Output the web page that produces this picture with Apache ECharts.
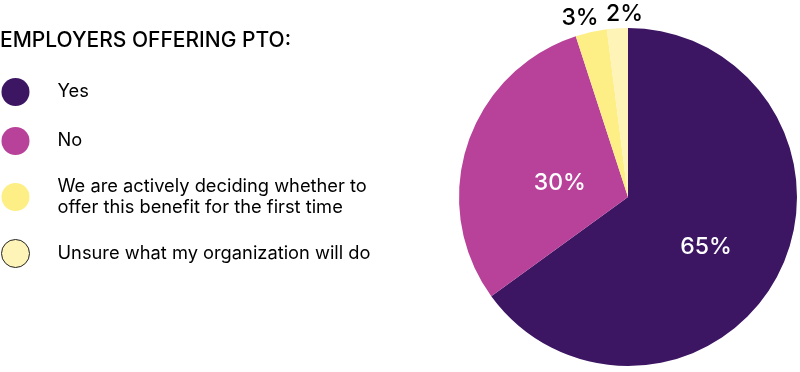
<!DOCTYPE html>
<html><head><meta charset="utf-8">
<script src="https://cdn.jsdelivr.net/npm/echarts@6/dist/echarts.min.js"></script>
<style>html,body{margin:0;padding:0;background:#fff}#c{width:800px;height:372px}</style>
</head><body><div id="c"></div>
<script>
const titleText = 'EMPLOYERS OFFERING PTO:';
const categories = ['Yes', 'No', 'We are actively deciding whether to\noffer this benefit for the first time', 'Unsure what my organization will do'];
const values = [65, 30, 3, 2];
const colors = ['#3c1563', '#b8419a', '#fdef86', '#fef4b8'];
const insideLabel = [true, true, false, false];

const chart = echarts.init(document.getElementById('c'));
const FONT = 'Inter, "Noto Sans", sans-serif';
const labelShift = [[0, 10], [15, 13], [-8, 0], [8, 0]];
chart.setOption({
  animation: false,
  title: {
    text: titleText, left: 0, top: 30, padding: 0,
    textStyle: {fontFamily: FONT, fontSize: 21, fontWeight: 500, color: '#000'}
  },
  legend: {
    orient: 'vertical', left: 1, top: 78, padding: 0,
    itemWidth: 28, itemHeight: 28, itemGap: 21, icon: 'circle',
    textStyle: {fontFamily: FONT, fontSize: 18.3, color: '#000', lineHeight: 21, padding: [0, 0, 0, 23]},
    data: categories.map((c, i) => i === 3
      ? {name: c, itemStyle: {borderColor: '#222', borderWidth: 1}}
      : {name: c})
  },
  series: [{
    type: 'pie',
    center: [628, 197], radius: 169,
    startAngle: 90, clockwise: true,
    avoidLabelOverlap: false,
    labelLine: {show: false, length: 14, length2: 0},
    labelLayout: function (p) {
      const s = labelShift[p.dataIndex];
      return {align: 'center', dx: s[0], dy: s[1]};
    },
    data: categories.map((c, i) => ({
      name: c, value: values[i],
      itemStyle: {color: colors[i]},
      label: insideLabel[i]
        ? {show: true, position: 'inside', formatter: '{c}%', color: '#fff', fontFamily: FONT, fontSize: 23, fontWeight: 500}
        : {show: true, position: 'outside', formatter: '{c}%', color: '#000', fontFamily: FONT, fontSize: 23, fontWeight: 500, distanceToLabelLine: 0}
    }))
  }]
});
</script></body></html>
